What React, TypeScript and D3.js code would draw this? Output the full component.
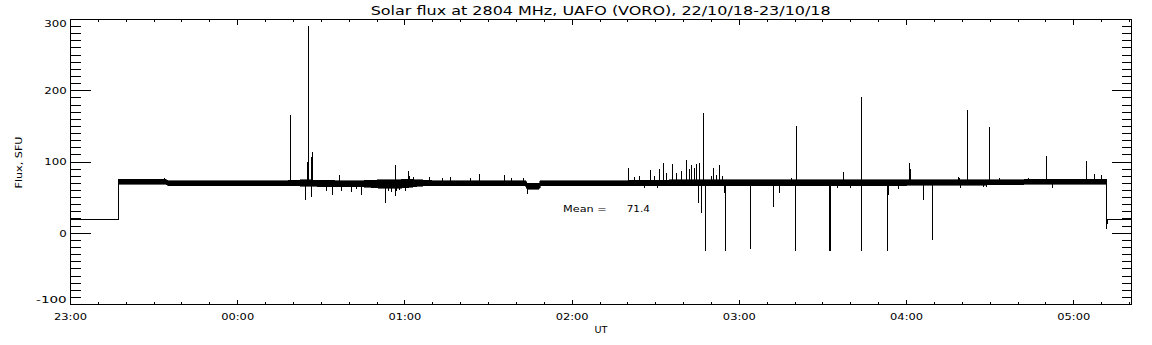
import React from "react";
import * as d3 from "d3";

// ---- text / ticks ----
const titleText = "Solar flux at 2804 MHz, UAFO (VORO),  22/10/18-23/10/18";
const yAxisTitle = "Flux, SFU";
const xAxisTitle = "UT";
const xTickMinutes = [0, 60, 120, 180, 240, 300, 360]; // minutes after 23:00
const xTickLabels = ["23:00", "00:00", "01:00", "02:00", "03:00", "04:00", "05:00"];
const yTickValues = [-100, 0, 100, 200, 300];
const xEndMinutes = 380.7;
const meanValue = 71.4;

// ---- data (minutes after 23:00, flux in SFU) ----
// quiet level before/after the observation
const startMinutes = [0, 17.2, 17.2];
const startValues = [20, 20, 72];
const endMinutes = [371.9, 371.9, 372.0, 380.7];
const endValues = [72, 6, 20, 20];

// noise band of the record (lower / upper envelope)
const bandMinutes = [17.2, 34, 35, 78, 84, 95, 105, 112, 117, 121, 125, 130, 163.4, 163.8, 168.2, 168.6, 200, 220, 240, 280, 300, 340, 345, 371.9];
const bandLow = [69, 69, 67, 67, 66, 65, 65, 63, 63, 64, 66, 67, 67, 62, 62, 67, 67, 67, 67, 67, 67, 68, 69, 69];
const bandHigh = [76, 76, 74, 74, 75, 74, 74, 75, 75, 76, 75, 74, 74, 70, 70, 74, 74, 75, 75, 75, 75, 75, 76, 76];
const bandBase = 71;

// bursts and dropouts (vertical excursions from the band)
const spikeMinutes = [
  78.8, 84.4, 84.9, 85.3, 86.3, 86.3, 87.0, 91.9, 94.0, 96.4, 97.2, 100.8, 102.6, 104.5, 108.6,
  113.2, 114.0, 115.2, 116.5, 116.5, 117.0, 118.2, 119.3, 120.2, 121.1, 121.7, 122.9, 128.8, 133.5, 136.3,
  143.5, 146.6, 155.6, 158.2, 162.4, 164.1, 33.8,
  200.1, 202.5, 204.3, 206.1, 208.0, 209.7, 210.8, 211.2, 212.6, 213.9, 216.0, 217.5, 219.2,
  220.9, 222.0, 223.0, 223.8, 224.5, 225.2, 225.8, 226.5, 227.3, 227.7, 230.0, 230.6, 231.8,
  232.7, 234.0, 234.7, 234.9, 244.0, 252.1, 254.5, 258.7, 260.0, 260.4, 272.5, 272.8, 275.1,
  277.2, 280.0, 283.7, 283.7, 293.0, 293.4, 297.0, 300.9, 301.3, 305.9, 309.2, 318.5, 319.1,
  319.4, 321.7, 327.5, 328.5, 329.6, 333.2, 343.6, 350.1, 352.2, 364.4, 367.6, 369.8,
];
const spikeValues = [
  166, 47, 100, 291, 107, 51, 114, 60, 53, 82, 60, 58, 62, 54, 64,
  43, 59, 58, 96, 52, 59, 61, 63, 60, 87, 80, 79, 79, 78, 79,
  78, 83, 82, 78, 78, 55, 78,
  92, 79, 81, 64, 89, 80, 63, 90, 98, 85, 97, 84, 87,
  103, 90, 96, 91, 97, 42, 98, 29, 169, -25, 80, 92, 82,
  96, 80, 56, -25, -22, 37, 57, 78, -25, 150, -25, -25, 64,
  86, 64, 191, -25, -25, 54, 62, 99, 90, 46, -9, 79, 78,
  63, 173, 65, 65, 149, 78, 78, 108, 64, 101, 83, 82,
];

const L = 70.5, R = 1131.5, T = 19.5, B = 304.5;
const font = "'DejaVu Sans', sans-serif";

export default function App() {
  const x = d3.scaleLinear().domain([0, xEndMinutes]).range([L, R]);
  const y = d3.scaleLinear().domain([-100, 300]).range([B, T]);
  const px = (t: number) => Math.floor(x(t)) + 0.5;

  const band = d3
    .area<number>()
    .x((i) => x(bandMinutes[i]))
    .y0((i) => y(bandLow[i]))
    .y1((i) => y(bandHigh[i]));
  const bandPath = band(d3.range(bandMinutes.length)) || "";

  const line = d3
    .line<[number, number]>()
    .x((d) => px(d[0]))
    .y((d) => y(d[1]));
  const startPath = line(startMinutes.map((t, i) => [t, startValues[i]] as [number, number])) || "";
  const endPath = line(endMinutes.map((t, i) => [t, endValues[i]] as [number, number])) || "";

  const yMinor = d3.range(-100, 301, 10);
  const xMinor = d3.range(0, xEndMinutes, 10);

  const yLabelY = (v: number) => Math.min(Math.max(y(v), 23.5), 300);
  const yLabelWidth = (s: string) => (s.startsWith("-") ? 30.7 : s.length * 7.5);

  return (
    <svg
      width={1152}
      height={345}
      style={{ position: "absolute", left: 0, top: 0, background: "#fff" }}
      fontFamily={font}
    >
      <rect x={0} y={0} width={1152} height={345} fill="#fff" />
      <text x={600.7} y={14.5} fontSize={12} textAnchor="middle" textLength={460} lengthAdjust="spacingAndGlyphs">
        {titleText}
      </text>

      {/* data */}
      <g shapeRendering="crispEdges">
        <path d={bandPath} fill="#000" stroke="#000" strokeWidth={0.6} />
        <path d={startPath} fill="none" stroke="#000" strokeWidth={1} />
        <path d={endPath} fill="none" stroke="#000" strokeWidth={1} />
        {spikeMinutes.map((t, i) => (
          <line key={i} x1={px(t)} x2={px(t)} y1={y(bandBase)} y2={y(spikeValues[i])} stroke="#000" strokeWidth={1} />
        ))}
      </g>

      {/* frame and ticks */}
      <g shapeRendering="crispEdges" stroke="#000" strokeWidth={1}>
        <rect x={L} y={T} width={R - L} height={B - T} fill="none" />
        {yMinor.map((v) => {
          const len = v % 100 === 0 ? 20 : 10;
          const yy = Math.round(y(v) - 0.5) + 0.5;
          return (
            <g key={v}>
              <line x1={L} x2={L + len} y1={yy} y2={yy} />
              <line x1={R} x2={R - len} y1={yy} y2={yy} />
            </g>
          );
        })}
        {xMinor.map((t) => {
          const len = t % 60 === 0 ? 5 : 2.5;
          const xx = px(t);
          return (
            <g key={t}>
              <line x1={xx} x2={xx} y1={B} y2={B - len} />
              <line x1={xx} x2={xx} y1={T} y2={T + len} />
            </g>
          );
        })}
      </g>

      {/* tick labels */}
      <g fontSize={9.5} fill="#000">
        {yTickValues.map((v) => {
          const s = String(v);
          return (
            <text
              key={v}
              x={66.7}
              y={yLabelY(v) + 3.4}
              textAnchor="end"
              textLength={yLabelWidth(s)}
              lengthAdjust="spacingAndGlyphs"
            >
              {s}
            </text>
          );
        })}
        {xTickMinutes.map((t, i) => (
          <text
            key={t}
            x={x(t)}
            y={319.5}
            textAnchor="middle"
            textLength={33}
            lengthAdjust="spacingAndGlyphs"
          >
            {xTickLabels[i]}
          </text>
        ))}
        <text x={600.9} y={333} textAnchor="middle" textLength={13} lengthAdjust="spacingAndGlyphs">
          {xAxisTitle}
        </text>
        <text
          transform="translate(22.3,162.5) rotate(-90)"
          textAnchor="middle"
          textLength={52}
          lengthAdjust="spacingAndGlyphs"
        >
          {yAxisTitle}
        </text>
        <text x={563} y={211.7} textLength={43.7} lengthAdjust="spacingAndGlyphs">
          Mean =
        </text>
        <text x={650} y={211.7} textAnchor="end" textLength={23.3} lengthAdjust="spacingAndGlyphs">
          {meanValue.toFixed(1)}
        </text>
      </g>
    </svg>
  );
}
